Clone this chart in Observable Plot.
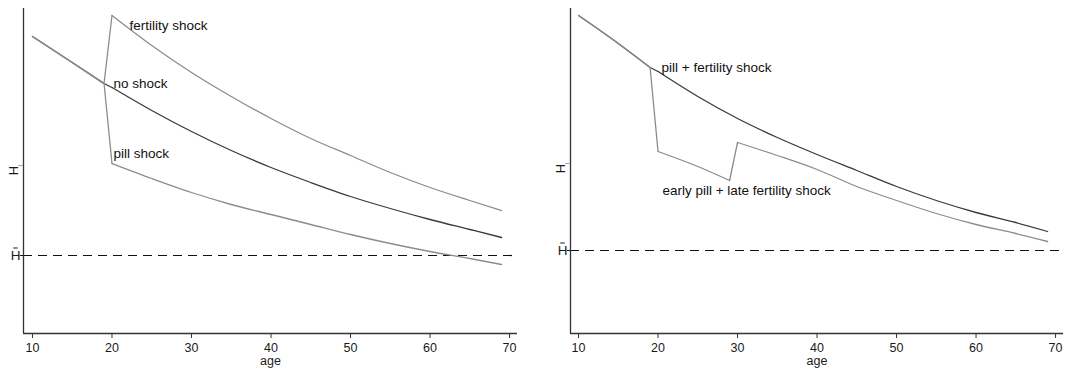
<!DOCTYPE html>
<html>
<head>
<meta charset="utf-8">
<script src="https://cdn.jsdelivr.net/npm/d3@7"></script>
<script src="https://cdn.jsdelivr.net/npm/@observablehq/plot@0.6"></script>
<style>
  html, body { margin: 0; padding: 0; background: #fff; }
  #wrap { display: flex; width: 1066px; height: 372px; }
</style>
</head>
<body>
<div id="wrap"></div>
<script>
// ---------- data (y in arbitrary units) ----------
const xTicks = [10, 20, 30, 40, 50, 60, 70];

// Left panel
const agesNoShock = [10, 15, 19, 20, 25, 30, 35, 40, 45, 50, 55, 60, 65, 69];
const noShock     = [297, 271, 250, 246, 223, 202, 183, 166, 151, 137, 125, 114, 104, 96];
const agesShock   = [10, 15, 19, 20, 25, 30, 35, 40, 45, 50, 55, 60, 65, 69];
const fertilityShock = [297, 271, 250, 318, 288, 261, 237, 215, 195, 178, 161, 146, 133, 123];
const pillShock      = [297, 271, 250, 170, 155, 141, 129, 119, 109, 99, 90, 82, 75, 69];
const hbarLeft = 78;
const hLeft = 168;
const labelsLeft = ["fertility shock", "no shock", "pill shock"];
const labelAgesLeft = [22.2, 20.2, 20.2];
const labelValsLeft = [308, 250, 180];

// Right panel
const agesPillFert = [10, 15, 19, 20, 25, 30, 35, 40, 45, 50, 55, 60, 65, 69];
const pillFertility = [318, 290, 266, 262, 237, 215, 196, 179, 163, 147, 133, 121, 111, 102];
const agesEarlyLate = [10, 15, 19, 20, 25, 29, 30, 35, 40, 45, 50, 55, 60, 65, 69];
const earlyPillLateFert = [318, 290, 266, 182, 167, 153, 191, 178, 164, 147, 133, 120, 109, 100, 92];
const hbarRight = 83;
const hRight = 170;
const labelsRight = ["pill + fertility shock", "early pill + late fertility shock"];
const labelAgesRight = [20.45, 20.55];
const labelValsRight = [266, 143];

// ---------- helpers ----------
// Split a series into smooth pieces and one-year jump pieces (drawn straight).
function segments(ages, vals) {
  const out = [];
  let seg = 0;
  for (let i = 0; i < ages.length; i++) {
    out.push({age: ages[i], v: vals[i], seg});
    if (i < ages.length - 1 && ages[i + 1] - ages[i] === 1) {
      seg++;
      out.push({age: ages[i], v: vals[i], seg});
      out.push({age: ages[i + 1], v: vals[i + 1], seg});
      seg++;
    }
  }
  return out;
}

// a short horizontal stroke used as the macron over H
const barSymbol = {
  draw(ctx, size) {
    const r = Math.sqrt(size / Math.PI);
    ctx.moveTo(-r, 0);
    ctx.lineTo(r, 0);
  }
};

const font = "'Liberation Sans', Arial, Helvetica, sans-serif";
const ink = "#1a1a1a";

function panel({marginLeft, marginRight, xDomain, series, hbar, hup, labels, labelAges, labelVals}) {
  const lab = labels.map((t, i) => ({t, age: labelAges[i], v: labelVals[i]}));
  return Plot.plot({
    width: 533,
    height: 372,
    marginTop: 8,
    marginBottom: 39,
    marginLeft,
    marginRight,
    x: {domain: xDomain},
    y: {domain: [0, 325]},
    style: {fontFamily: font, fontSize: "12.5px", color: ink, background: "white"},
    marks: [
      Plot.ruleY([hbar], {stroke: "#111", strokeWidth: 1.2, strokeDasharray: "9,6"}),
      ...series.map(s => Plot.line(segments(s.ages, s.vals), {
        x: "age", y: "v", z: "seg", stroke: s.color, strokeWidth: 1.3, curve: "monotone-x"
      })),
      Plot.ruleX([xDomain[0]], {stroke: "#333", strokeWidth: 1.3}),
      Plot.ruleY([0], {stroke: "#333", strokeWidth: 1.3}),
      Plot.axisX({ticks: xTicks, tickSize: 5, tickPadding: 5, label: null, stroke: "#333", fill: ink, fontSize: 12.5}),
      // H-bar label: letter plus a drawn macron
      Plot.axisY({ticks: [hbar], tickSize: 3, tickFormat: () => "", label: null, stroke: "#111"}),
      Plot.text([hbar], {x: () => xDomain[0], y: d => d, text: () => "H", textAnchor: "middle", dx: -8, fontSize: 13.5, fill: ink}),
      Plot.dot([hbar], {x: () => xDomain[0], y: d => d, symbol: barSymbol, r: 2.2, fill: "none", stroke: ink, strokeWidth: 1, dx: -8, dy: -7.5}),
      Plot.axisY({ticks: [hup], tickSize: 5, tickFormat: () => "", label: null, stroke: "#aaa"}),
      Plot.text([hup], {x: () => xDomain[0], y: d => d, text: () => "H", rotate: -90, dx: -10, dy: 5, fontSize: 13, fill: ink}),
      Plot.text(["age"], {text: d => d, frameAnchor: "bottom", dy: 31, fontSize: 12.5, fill: ink}),
      Plot.text(lab, {x: "age", y: "v", text: "t", textAnchor: "start", fontSize: 13.5, fill: "#111"})
    ]
  });
}

const wrap = document.getElementById("wrap");
wrap.append(panel({
  marginLeft: 23, marginRight: 16, xDomain: [8.87, 71.0],
  series: [
    {ages: agesNoShock, vals: noShock, color: "#3a3a3a"},
    {ages: agesShock, vals: fertilityShock, color: "#8c8c8c"},
    {ages: agesShock, vals: pillShock, color: "#8c8c8c"}
  ],
  hbar: hbarLeft, hup: hLeft,
  labels: labelsLeft, labelAges: labelAgesLeft, labelVals: labelValsLeft
}));
wrap.append(panel({
  marginLeft: 37, marginRight: 3, xDomain: [8.99, 71.0],
  series: [
    {ages: agesPillFert, vals: pillFertility, color: "#3a3a3a"},
    {ages: agesEarlyLate, vals: earlyPillLateFert, color: "#8c8c8c"}
  ],
  hbar: hbarRight, hup: hRight,
  labels: labelsRight, labelAges: labelAgesRight, labelVals: labelValsRight
}));
</script>
</body>
</html>
